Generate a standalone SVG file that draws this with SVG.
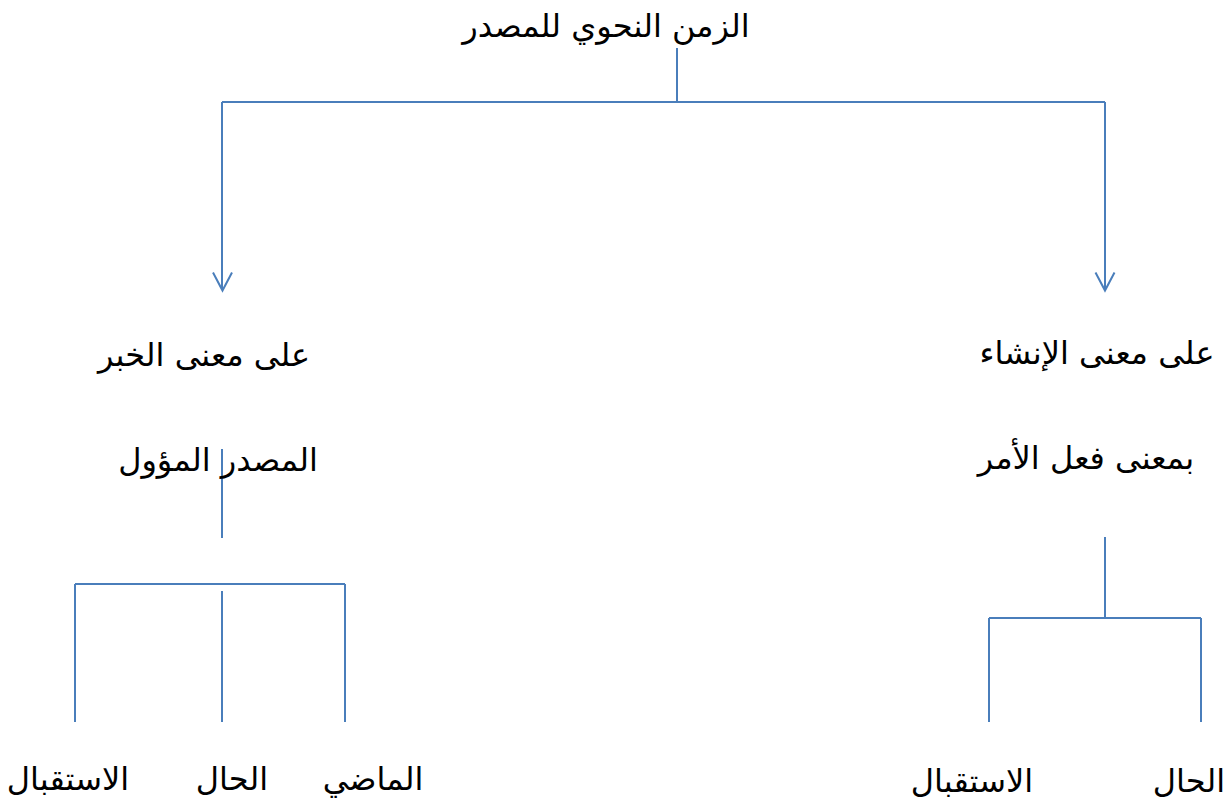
<svg xmlns="http://www.w3.org/2000/svg" width="1232" height="810" viewBox="0 0 1232 810">
<defs>
<style>
.t{font-family:"DejaVu Sans","Noto Sans",sans-serif;font-size:32px;fill:#000;text-anchor:middle}
.c{stroke:#4a7ebb;stroke-width:2;fill:none}
</style>
<marker id="arr" markerWidth="24" markerHeight="24" viewBox="-12 -20 24 24" refX="0" refY="0" orient="auto-start-reverse" markerUnits="userSpaceOnUse">
<path d="M-9.5,-18 L0,0 L9.5,-18" stroke="#4a7ebb" stroke-width="2" fill="none"/>
</marker>
</defs>
<rect width="1232" height="810" fill="#fff"/>
<g id="connectors">
<line class="c" x1="677" y1="48" x2="677" y2="102"/>
<line class="c" x1="222" y1="102" x2="1105" y2="102"/>
<path class="c" d="M222,102 L222,290"/>
<path d="M213,272.5 L222.5,290.5 L232,272.5" class="c"/>
<path class="c" d="M1105,102 L1105,290"/>
<path d="M1095.5,272.5 L1105,290.5 L1114.5,272.5" class="c"/>
<line class="c" x1="222" y1="449" x2="222" y2="538"/>
<line class="c" x1="75" y1="584" x2="345" y2="584"/>
<line class="c" x1="75" y1="584" x2="75" y2="722"/>
<line class="c" x1="345" y1="584" x2="345" y2="722"/>
<line class="c" x1="222" y1="591" x2="222" y2="722"/>
<line class="c" x1="1105" y1="537" x2="1105" y2="618"/>
<line class="c" x1="989" y1="618" x2="1201" y2="618"/>
<line class="c" x1="989" y1="618" x2="989" y2="722"/>
<line class="c" x1="1201" y1="618" x2="1201" y2="722"/>
</g>
<g id="root"><text class="t" x="606" y="37">الزمن النحوي للمصدر</text></g>
<g id="khabar"><text class="t" x="204" y="366">على معنى الخبر</text><text class="t" x="218" y="471">المصدر المؤول</text></g>
<g id="insha"><text class="t" x="1097" y="364">على معنى الإنشاء</text><text class="t" x="1086" y="469">بمعنى فعل الأمر</text></g>
<g id="k-future"><text class="t" x="68" y="790">الاستقبال</text></g>
<g id="k-present"><text class="t" x="232" y="790">الحال</text></g>
<g id="k-past"><text class="t" x="373" y="790">الماضي</text></g>
<g id="i-future"><text class="t" x="972" y="792">الاستقبال</text></g>
<g id="i-present"><text class="t" x="1189" y="792">الحال</text></g>
</svg>
